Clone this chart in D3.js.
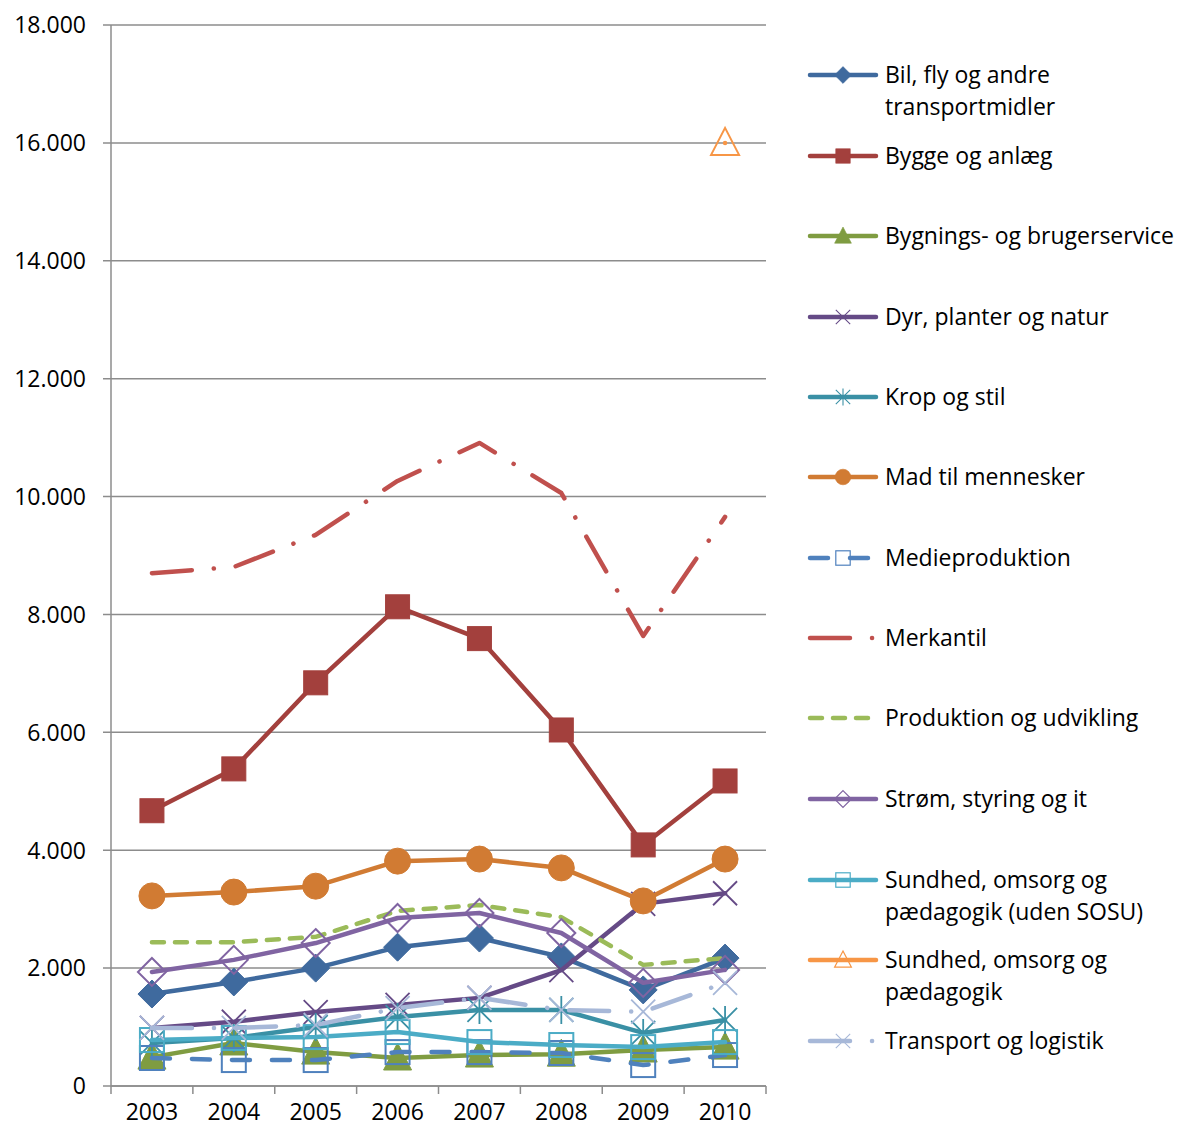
<!DOCTYPE html>
<html>
<head>
<meta charset="utf-8">
<script src="https://cdn.jsdelivr.net/npm/d3@7"></script>
<style>
  body { margin: 0; background: #fff; }
  text { font-family: "Open Sans", sans-serif; fill: #000; }
</style>
</head>
<body>
<svg id="chart"></svg>
<script>
// data
const years = ["2003", "2004", "2005", "2006", "2007", "2008", "2009", "2010"];
const yTicks = [0, 2000, 4000, 6000, 8000, 10000, 12000, 14000, 16000, 18000];

const bil = [1560, 1765, 2000, 2355, 2510, 2190, 1630, 2170];
const bygge = [4670, 5380, 6840, 8130, 7590, 6040, 4090, 5175];
const bygnings = [490, 730, 575, 475, 525, 540, 610, 660];
const dyr = [985, 1090, 1255, 1375, 1495, 1965, 3090, 3270];
const krop = [730, 815, 1000, 1170, 1290, 1290, 900, 1120];
const mad = [3225, 3290, 3390, 3815, 3850, 3700, 3140, 3850];
const medie = [475, 440, 440, 575, 575, 560, 355, 525];
const merkantil = [8700, 8805, 9350, 10265, 10910, 10060, 7635, 9655];
const produktion = [2440, 2440, 2530, 2970, 3070, 2865, 2055, 2170];
const strom = [1935, 2140, 2425, 2850, 2935, 2595, 1750, 1970];
const sundhedUden = [780, 815, 830, 915, 745, 695, 660, 745];
const sundhed = [null, null, null, null, null, null, null, 16000];
const transport = [985, 985, 1035, 1320, 1495, 1290, 1260, 1750];

const seriesNames = [
  ["Bil, fly og andre", "transportmidler"],
  ["Bygge og anlæg"],
  ["Bygnings- og brugerservice"],
  ["Dyr, planter og natur"],
  ["Krop og stil"],
  ["Mad til mennesker"],
  ["Medieproduktion"],
  ["Merkantil"],
  ["Produktion og udvikling"],
  ["Strøm, styring og it"],
  ["Sundhed, omsorg og", "pædagogik (uden SOSU)"],
  ["Sundhed, omsorg og", "pædagogik"],
  ["Transport og logistik"]
];
const seriesValues = [bil, bygge, bygnings, dyr, krop, mad, medie, merkantil, produktion, strom, sundhedUden, sundhed, transport];

// styles per series (colour, dash, marker, filled)
const styles = [
  { color: "#3F6A9E", dash: null, marker: "diamond", filled: true },
  { color: "#A3403D", dash: null, marker: "square", filled: true },
  { color: "#7F9C41", dash: null, marker: "triangle", filled: true },
  { color: "#654A86", dash: null, marker: "x", filled: true },
  { color: "#3A90A5", dash: null, marker: "star", filled: true },
  { color: "#D17B33", dash: null, marker: "circle", filled: true },
  { color: "#4F81BD", dash: "18,22", marker: "square", filled: false },
  { color: "#C0504D", dash: "40,22,0.1,22", marker: null, filled: false },
  { color: "#9BBB59", dash: "12,11", marker: null, filled: false },
  { color: "#8064A2", dash: null, marker: "diamond", filled: false },
  { color: "#4BACC6", dash: null, marker: "square", filled: false },
  { color: "#F79646", dash: null, marker: "triangle", filled: false },
  { color: "#A7B8D8", dash: "40,22,0.1,22", marker: "x", filled: false }
];

const W = 1178, H = 1129;
const plot = { left: 111, right: 766, top: 25, bottom: 1086 };
const fontSize = "23px";

const svg = d3.select("#chart").attr("width", W).attr("height", H);

const x = d3.scaleBand().domain(years).range([plot.left, plot.right]).padding(0);
const y = d3.scaleLinear().domain([0, 18000]).range([plot.bottom, plot.top]);
const cx = d => x(d) + x.bandwidth() / 2;

// gridlines + y ticks
svg.append("g")
  .selectAll("line")
  .data(yTicks)
  .join("line")
    .attr("x1", plot.left - 8)
    .attr("x2", plot.right)
    .attr("y1", d => y(d))
    .attr("y2", d => y(d))
    .attr("stroke", "#8c8c8c")
    .attr("stroke-width", 1.5);

svg.append("g")
  .selectAll("text")
  .data(yTicks)
  .join("text")
    .attr("x", 86)
    .attr("y", d => y(d))
    .attr("dy", "0.36em")
    .attr("text-anchor", "end")
    .style("font-size", fontSize)
    .text(d => d3.format(",")(d).replace(/,/g, "."));

// axis lines
svg.append("line")
  .attr("x1", plot.left).attr("x2", plot.left)
  .attr("y1", plot.top).attr("y2", plot.bottom)
  .attr("stroke", "#8c8c8c").attr("stroke-width", 1.5);
svg.append("line")
  .attr("x1", plot.left).attr("x2", plot.right)
  .attr("y1", plot.bottom).attr("y2", plot.bottom)
  .attr("stroke", "#8c8c8c").attr("stroke-width", 1.5);

// x ticks at band edges
svg.append("g")
  .selectAll("line")
  .data(years.map(d => x(d)).concat([plot.right]))
  .join("line")
    .attr("x1", d => d).attr("x2", d => d)
    .attr("y1", plot.bottom).attr("y2", plot.bottom + 8)
    .attr("stroke", "#8c8c8c").attr("stroke-width", 1.5);

svg.append("g")
  .selectAll("text")
  .data(years)
  .join("text")
    .attr("x", d => cx(d))
    .attr("y", 1120)
    .attr("text-anchor", "middle")
    .style("font-size", fontSize)
    .text(d => d);

// marker drawing
function drawMarker(g, type, color, filled, px, py) {
  const sw = filled ? 1 : 2;
  const fill = filled ? color : "none";
  if (type === "diamond") {
    const s = 14;
    g.append("path").attr("d", `M${px},${py - s}L${px + s},${py}L${px},${py + s}L${px - s},${py}Z`)
      .attr("fill", fill).attr("stroke", color).attr("stroke-width", sw);
  } else if (type === "square") {
    const s = 12;
    g.append("rect").attr("x", px - s).attr("y", py - s).attr("width", 2 * s).attr("height", 2 * s)
      .attr("fill", fill).attr("stroke", color).attr("stroke-width", sw);
  } else if (type === "triangle") {
    g.append("path").attr("d", `M${px},${py - 15}L${px + 14},${py + 12}L${px - 14},${py + 12}Z`)
      .attr("fill", fill).attr("stroke", color).attr("stroke-width", sw);
  } else if (type === "circle") {
    g.append("circle").attr("cx", px).attr("cy", py).attr("r", 13)
      .attr("fill", fill).attr("stroke", color).attr("stroke-width", sw);
  } else if (type === "x" || type === "star") {
    const s = 12;
    g.append("path")
      .attr("d", `M${px - s},${py - s}L${px + s},${py + s}M${px - s},${py + s}L${px + s},${py - s}` +
        (type === "star" ? `M${px},${py - 14}L${px},${py + 14}` : ""))
      .attr("fill", "none").attr("stroke", color).attr("stroke-width", 1.8);
  }
}

const line = d3.line()
  .defined(d => d.v != null)
  .x(d => cx(d.year))
  .y(d => y(d.v));

// series
seriesValues.forEach((vals, i) => {
  const st = styles[i];
  const pts = years.map((yr, j) => ({ year: yr, v: vals[j] }));
  const g = svg.append("g");
  g.append("path")
    .datum(pts)
    .attr("d", line)
    .attr("fill", "none")
    .attr("stroke", st.color)
    .attr("stroke-width", 4.5)
    .attr("stroke-linejoin", "round")
    .attr("stroke-linecap", "round")
    .attr("stroke-dasharray", st.dash);
  if (st.marker) {
    pts.filter(p => p.v != null).forEach(p => drawMarker(g, st.marker, st.color, st.filled, cx(p.year), y(p.v)));
  }
});

// legend
const legendY = [75, 156, 236, 317, 397, 477, 558, 638, 718, 799, 880, 960, 1041];
const legend = svg.append("g");
seriesNames.forEach((name, i) => {
  const st = styles[i];
  const ly = legendY[i];
  const g = legend.append("g");
  g.append("line")
    .attr("x1", 810).attr("x2", 876)
    .attr("y1", ly).attr("y2", ly)
    .attr("stroke", st.color)
    .attr("stroke-width", 4.5)
    .attr("stroke-linecap", "round")
    .attr("stroke-dasharray", st.dash);
  if (st.marker) {
    const lg = g.append("g").attr("transform", `translate(843,${ly}) scale(0.6)`);
    drawMarker(lg, st.marker, st.color, st.filled, 0, 0);
  }
  name.forEach((t, k) => {
    g.append("text")
      .attr("x", 885)
      .attr("y", ly + k * 32)
      .attr("dy", "0.36em")
      .style("font-size", fontSize)
      .text(t);
  });
});
</script>
</body>
</html>
